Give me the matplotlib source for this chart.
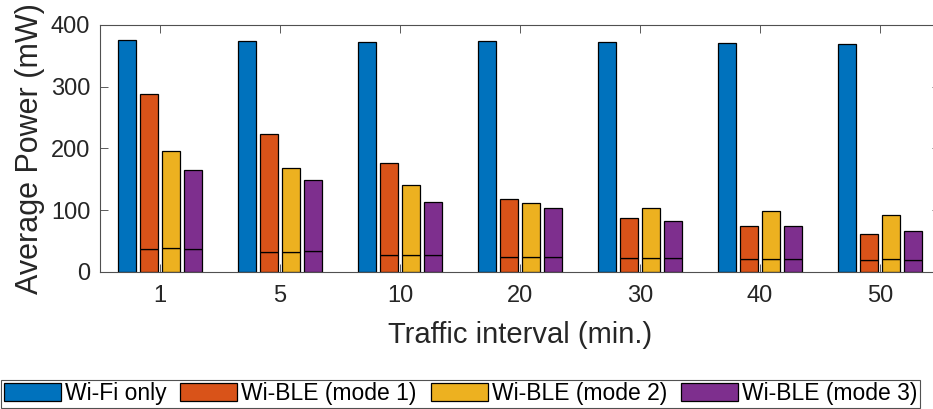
import numpy as np
import matplotlib
matplotlib.use("Agg")
import matplotlib.pyplot as plt
from matplotlib.patches import Patch

plt.rcParams['font.family'] = ['Liberation Sans', 'DejaVu Sans']

intervals = ['1', '5', '10', '20', '30', '40', '50']
series = ['Wi-Fi only', 'Wi-BLE (mode 1)', 'Wi-BLE (mode 2)', 'Wi-BLE (mode 3)']
colors = ['#0072BD', '#D95319', '#EDB120', '#7E2F8E']

# total average power per interval (mW)
wifi_only = [375, 373, 372, 374, 372, 371, 368]
mode1 = [288, 223, 176, 118, 88, 74, 62]
mode2 = [195, 169, 140, 112, 103, 98, 93]
mode3 = [165, 149, 114, 103, 83, 75, 66]

# base share drawn as the lower segment of each Wi-BLE bar (mW)
base1 = [38, 33, 27.5, 25, 22, 21, 20]
base2 = [39, 32.5, 27.5, 25, 22, 21, 20.5]
base3 = [38, 34, 27.5, 25, 22, 21.5, 19]

totals = [wifi_only, mode1, mode2, mode3]
bases = [None, base1, base2, base3]

fig = plt.figure(figsize=(9.33, 4.09), dpi=100)
ax = fig.add_axes([100/933, 137/409, 840/933, 247.3/409])

x = np.arange(1, len(intervals) + 1)
pitch = 0.1833
width = 0.15
for i, (tot, base, c) in enumerate(zip(totals, bases, colors)):
    pos = x + (i - 1.5) * pitch
    if base is None:
        ax.bar(pos, tot, width, color=c, edgecolor='black', linewidth=0.9)
    else:
        ax.bar(pos, base, width, color=c, edgecolor='black', linewidth=0.9)
        ax.bar(pos, np.array(tot) - np.array(base), width, bottom=base,
               color=c, edgecolor='black', linewidth=0.9)

ax.set_xlim(0.5, 7.5)
ax.set_ylim(0, 400)
ax.set_xticks(x)
ax.set_xticklabels(intervals)
ax.set_yticks([0, 100, 200, 300, 400])
ax.tick_params(direction='in', length=6, width=0.6, color='#404040',
               labelcolor='#262626', labelsize=17, top=True, right=True)
ax.tick_params(axis='x', pad=9.5)
ax.tick_params(axis='y', pad=7)
for s in ax.spines.values():
    s.set_color('#505050')
    s.set_linewidth(0.8)
ax.set_xlabel('Traffic interval (min.)', fontsize=21, color='#262626', labelpad=10)
ax.set_ylabel('Average Power (mW)', fontsize=22, color='#262626', labelpad=4)

handles = [Patch(facecolor=c, edgecolor='black', linewidth=0.9) for c in colors]
leg = fig.legend(handles, series, loc='lower left', bbox_to_anchor=(1/933, 1/409),
                 ncol=4, fontsize=16.5, frameon=True, fancybox=False,
                 handlelength=2.49, handleheight=0.85, handletextpad=0.17,
                 columnspacing=0.61, borderpad=0.12, borderaxespad=0)
leg.get_frame().set_edgecolor('#262626')
leg.get_frame().set_linewidth(0.8)

fig.savefig('out.png', dpi=100)
